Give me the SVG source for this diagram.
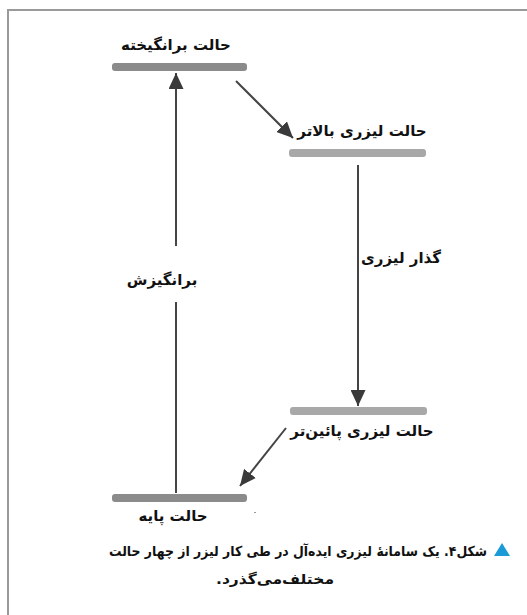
<svg xmlns="http://www.w3.org/2000/svg" width="527" height="615" viewBox="0 0 527 615">
<style>
.t{font-family:"DejaVu Sans",sans-serif;font-weight:bold;font-size:15px;fill:#111;direction:rtl;unicode-bidi:embed}
.c{font-size:13.8px}
.dark{fill:#8b8b8b}
.light{fill:#a8a8a8}
.ar{stroke:#444;stroke-width:2;fill:none}
</style>
<defs>
<marker id="ahb" markerWidth="16" markerHeight="15" refX="16" refY="7.5" orient="auto" markerUnits="userSpaceOnUse" viewBox="0 0 16 15">
<path d="M0,0 L16,7.5 L0,15 Z" fill="#3a3a3a"/>
</marker>
</defs>
<rect width="527" height="615" fill="#fff"/>
<path d="M8,615 V10 H527" fill="none" stroke="#9a9a9a" stroke-width="2"/>
<g id="excited">
<rect class="dark" x="112" y="63" width="135" height="8" rx="3"/>
<text class="t" x="176" y="50" text-anchor="middle">حالت برانگیخته</text>
</g>
<g id="upper">
<rect class="light" x="289" y="149" width="137" height="8" rx="3"/>
<text class="t" x="362" y="136" text-anchor="middle">حالت لیزری بالاتر</text>
</g>
<g id="lower">
<rect class="light" x="290" y="407" width="137" height="8" rx="3"/>
<text class="t" x="362" y="436" text-anchor="middle">حالت لیزری پائین‌تر</text>
</g>
<g id="ground">
<rect class="dark" x="112" y="494" width="135" height="8" rx="3"/>
<text class="t" x="173" y="521" text-anchor="middle">حالت پایه</text>
</g>
<g id="connectors">
<line class="ar" x1="176" y1="493" x2="176" y2="302"/>
<line class="ar" x1="176" y1="246" x2="176" y2="73" marker-end="url(#ahb)"/>
<text class="t" x="162" y="285" text-anchor="middle">برانگیزش</text>
<line class="ar" x1="358" y1="165" x2="358" y2="406" marker-end="url(#ahb)"/>
<text class="t" x="401" y="263" text-anchor="middle">گذار لیزری</text>
<line class="ar" x1="236" y1="81" x2="293" y2="138" marker-end="url(#ahb)"/>
<line class="ar" x1="286" y1="428" x2="240" y2="486" marker-end="url(#ahb)"/>
</g>
<rect x="254" y="512" width="2" height="1" fill="#999"/>
<g id="caption">
<path d="M494,556 L502,543 L510,556 Z" fill="#1a9ad6"/>
<text class="t c" x="298" y="556" text-anchor="middle" textLength="378" lengthAdjust="spacingAndGlyphs">شکل۴. یک سامانهٔ لیزری ایده‌آل در طی کار لیزر از چهار حالت</text>
<text class="t c" x="275" y="584" text-anchor="middle" textLength="118" lengthAdjust="spacingAndGlyphs">مختلف‌می‌گذرد.</text>
</g>
</svg>
